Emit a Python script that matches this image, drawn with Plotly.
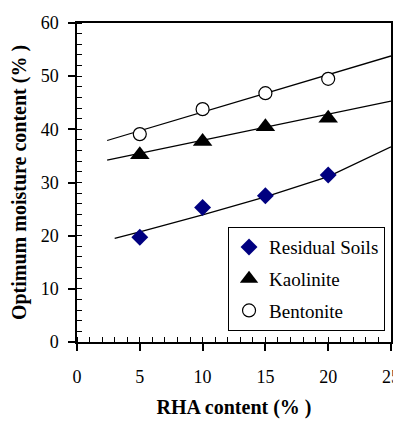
import plotly.graph_objects as go

# Measured data (RHA content %, optimum moisture content %)
rha = [5, 10, 15, 20]
residual = [19.7, 25.3, 27.5, 31.4]
kaolinite = [35.2, 37.7, 40.5, 42.1]
bentonite = [39.1, 43.8, 46.8, 49.5]

# Trend lines
res_fit_x = [3.0, 5, 10, 15, 20, 25]
res_fit_y = [19.5, 20.7, 23.9, 27.3, 31.1, 36.7]
kao_fit_x = [2.4, 25]
kao_fit_y = [34.2, 45.3]
ben_fit_x = [2.4, 25]
ben_fit_y = [37.9, 53.8]

FONT = "Liberation Serif, Times New Roman, DejaVu Serif, serif"

# page body has an 8px default margin: compensate
OFF = 8
W, H = 401 - OFF, 426 - OFF

fig = go.Figure()
for fx, fy in [(res_fit_x, res_fit_y), (kao_fit_x, kao_fit_y), (ben_fit_x, ben_fit_y)]:
    fig.add_trace(go.Scatter(x=fx, y=fy, mode="lines", showlegend=False,
                             line=dict(color="black", width=1.3), hoverinfo="skip"))

fig.add_trace(go.Scatter(x=rha, y=residual, mode="markers", name="Residual Soils",
                         legendgroup="a",
                         marker=dict(symbol="diamond", size=13, color="#000080",
                                     line=dict(width=0))))
fig.add_trace(go.Scatter(x=rha, y=kaolinite, mode="markers", name="Kaolinite",
                         legendgroup="b",
                         marker=dict(symbol="triangle-up", size=17, color="black",
                                     line=dict(width=0))))
fig.add_trace(go.Scatter(x=rha, y=bentonite, mode="markers", name="Bentonite",
                         legendgroup="c",
                         marker=dict(symbol="circle", size=13, color="white",
                                     line=dict(width=1.2, color="black"))))

fig.update_layout(
    width=W, height=H,
    margin=dict(l=77 - OFF, r=10, t=23 - OFF, b=84, autoexpand=False),
    paper_bgcolor="white", plot_bgcolor="white",
    font=dict(family=FONT, size=18, color="black"),
    legend=dict(x=0.981, xanchor="right", y=0.360, yanchor="top",
                bordercolor="black", borderwidth=1, bgcolor="white",
                font=dict(family=FONT, size=19, color="black"),
                traceorder="grouped", tracegroupgap=4, itemwidth=30),
)
fig.update_xaxes(
    range=[0, 25], tick0=0, dtick=5, showgrid=False, zeroline=False,
    showline=True, linecolor="black", linewidth=1.5, mirror=True,
    ticks="outside", ticklen=7, tickwidth=1.5, tickcolor="black",
    ticklabelstandoff=11, automargin=False, ticklabeloverflow="allow",
    tickfont=dict(family=FONT, size=18),
    minor=dict(dtick=1, ticks="inside", ticklen=5, tickwidth=1.2, tickcolor="black", showgrid=False),
    title=dict(text="<b>RHA content (% )</b>", font=dict(family=FONT, size=20), standoff=14),
)
fig.update_yaxes(
    range=[0, 60], tick0=0, dtick=10, showgrid=False, zeroline=False,
    showline=True, linecolor="black", linewidth=1.5, mirror=True,
    ticks="outside", ticklen=7, tickwidth=1.5, tickcolor="black",
    ticklabelstandoff=6, automargin=False, ticklabeloverflow="allow",
    tickfont=dict(family=FONT, size=18),
    minor=dict(dtick=2, ticks="inside", ticklen=5, tickwidth=1.2, tickcolor="black", showgrid=False),
    title=dict(text="<b>Optimum moisture content (% )</b>", font=dict(family=FONT, size=20), standoff=10),
)

fig.write_html("out.html")
